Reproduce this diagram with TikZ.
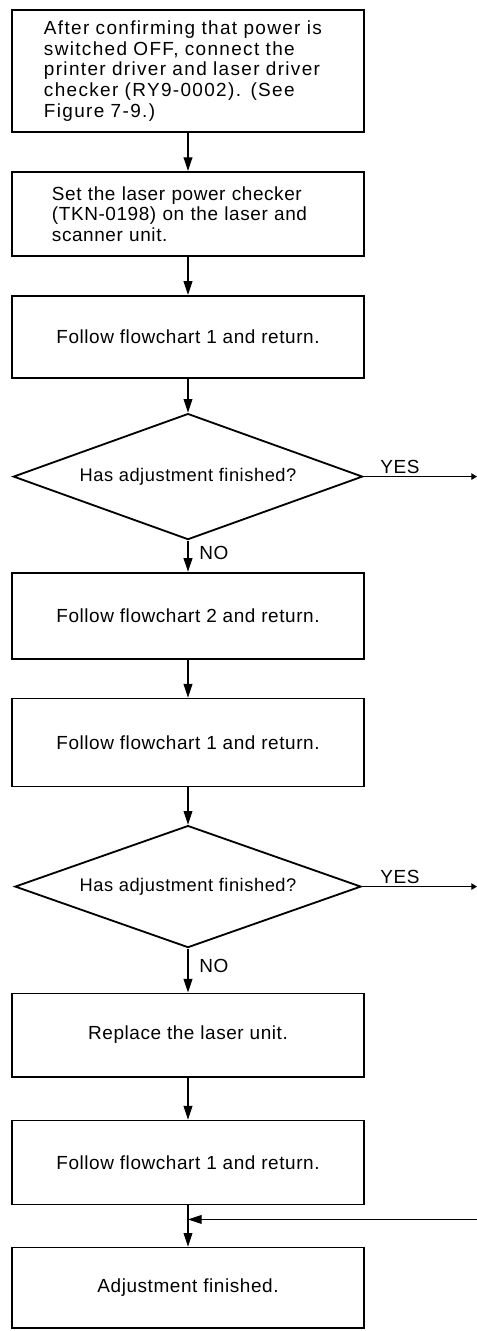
\documentclass[tikz,border=0pt]{standalone}
\usepackage{fontspec}
\setmainfont{Liberation Sans}[LetterSpace=3]
\newfontfamily\widefont{Liberation Sans}[LetterSpace=7]
\usetikzlibrary{positioning,arrows.meta,shapes.geometric}
\tikzset{
  proc/.style={draw=black,line width=1.3pt,minimum width=8.8cm,align=center,inner sep=4pt,font=\fontsize{13.5}{14.5}\selectfont},
  query/.style={diamond,aspect=2.77,draw=black,line width=1.3pt,inner sep=0pt,font=\fontsize{13}{14}\selectfont},
  link/.style={-{Triangle[length=3.4mm,width=2.2mm]},line width=0.8pt},
  linkout/.style={-{Triangle[length=1.4mm,width=1.6mm]},line width=0.8pt},
  lbl/.style={font=\fontsize{13.5}{14.5}\selectfont,inner sep=2pt},
}
\begin{document}
\begin{tikzpicture}[x=0.025cm,y=-0.025cm,node distance=1cm]
  \useasboundingbox (0,0) rectangle (477,1331);
  \coordinate (edge) at (477,0);
  \node[proc,minimum height=3.05cm,text width=7.2cm,align=left,font=\widefont\fontsize{13.5}{14.7}\selectfont] (connect) at (188,71) {After confirming that power is\\switched OFF, connect the\\printer driver and laser driver\\checker (RY9-0002). (See\\Figure 7-9.)};
  \node[proc,minimum height=2.1cm,text width=6.8cm,align=left,below=9.5mm of connect] (setchk) {Set the laser power checker\\(TKN-0198) on the laser and\\scanner unit.};
  \node[proc,minimum height=2.05cm,below=9.5mm of setchk] (fc1a) {Follow flowchart 1 and return.};
  \node[query,minimum width=8.73cm,minimum height=3.15cm,below=8.5mm of fc1a] (done1) {Has adjustment finished?};
  \node[proc,minimum height=2.15cm,below=7.8mm of done1] (fc2) {Follow flowchart 2 and return.};
  \node[proc,minimum height=2.2cm,below=9.5mm of fc2] (fc1b) {Follow flowchart 1 and return.};
  \node[query,minimum width=8.65cm,minimum height=3.05cm,below=9.3mm of fc1b] (done2) {Has adjustment finished?};
  \node[proc,minimum height=2.08cm,below=11mm of done2] (repl) {Replace the laser unit.};
  \node[proc,minimum height=2.1cm,below=10.5mm of repl] (fc1c) {Follow flowchart 1 and return.};
  \node[proc,minimum height=2cm,below=10.3mm of fc1c] (finish) {Adjustment finished.};
  \coordinate[below=3.5mm of fc1c] (join);
  \draw[link] (connect) -- (setchk);
  \draw[link] (setchk) -- (fc1a);
  \draw[link] (fc1a) -- (done1);
  \draw[link] (done1) -- node[lbl,right=2mm,pos=0.4]{NO} (fc2);
  \draw[link] (fc2) -- (fc1b);
  \draw[link] (fc1b) -- (done2);
  \draw[link] (done2) -- node[lbl,right=2mm,pos=0.4]{NO} (repl);
  \draw[link] (repl) -- (fc1c);
  \draw[link] (fc1c) -- (finish);
  \draw[linkout] (done1.east) -- node[lbl,above,pos=0.32]{YES} (done1.east -| edge);
  \draw[linkout] (done2.east) -- node[lbl,above,pos=0.33]{YES} (done2.east -| edge);
  \draw[link] (edge |- join) -- (join);
\end{tikzpicture}
\end{document}
